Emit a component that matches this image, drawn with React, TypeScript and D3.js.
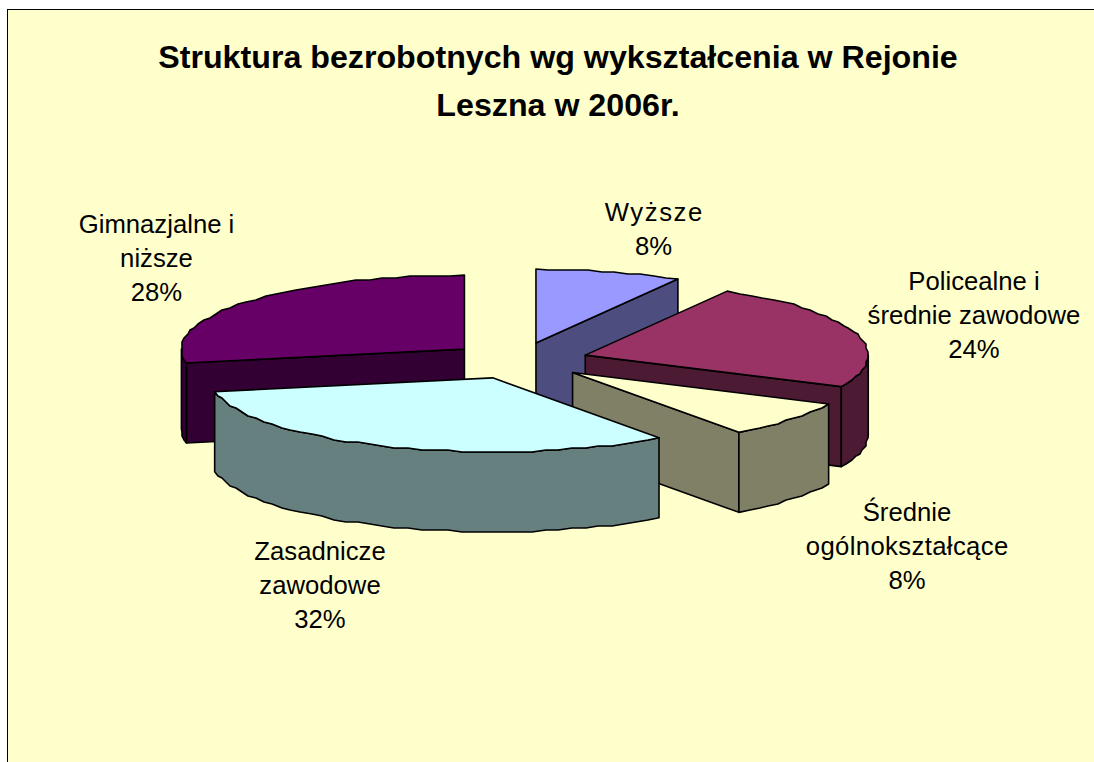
import React from "react";
import * as d3 from "d3";

const titleLines = ["Struktura bezrobotnych wg wykształcenia w Rejonie", "Leszna w 2006r."];
const categories = ["Wyższe", "Policealne i średnie zawodowe", "Średnie ogólnokształcące", "Zasadnicze zawodowe", "Gimnazjalne i niższe"];
const values = [8, 24, 8, 32, 28];
const topColors = ["#9999FF", "#993366", "#FFFFCC", "#CCFFFF", "#660066"];
const sideColors = ["#4D4D80", "#4D1A33", "#808066", "#668080", "#330033"];
const labelLines = [["Wyższe", "8%"], ["Policealne i", "średnie zawodowe", "24%"], ["Średnie", "ogólnokształcące", "8%"], ["Zasadnicze", "zawodowe", "32%"], ["Gimnazjalne i", "niższe", "28%"]];
const drawOrder = [4, 0, 1, 2, 3];

const W = 1094, H = 762;
const CX = 518.5, CY = 360.8, RX = 283, RY = 74, DEPTH = 80, EXPLODE = 0.248;
const labelPos = [[653.5, 221], [974, 290], [907, 521], [320, 560], [156.5, 232.5]];
const stretched: Record<string, number> = { "Wyższe": 97.5, "ogólnokształcące": 202.5 };

const arcs = d3.pie<number>().sort(null).startAngle(0).endAngle(2 * Math.PI)(values);

type P = [number, number];
const line = d3.line();

function App() {
  // the original's slight perspective widens the back-right quadrant
  const warp = (a: number) => (a > 0 && a < Math.PI / 2 ? a + 0.032 * Math.sin(2 * a) ** 2 : a);
  const project = (c: P, a: number, dy = 0): P => {
    const b = warp(a);
    return [c[0] + RX * Math.sin(b), c[1] - RY * Math.cos(b) + dy];
  };
  // slightly stepped outline of the coarse original rendering
  const rim = (c: P, a0: number, a1: number, dy = 0): P[] => {
    const n = Math.max(2, Math.ceil((a1 - a0) / 0.05));
    return d3.range(n + 1).map((i) => {
      const a = a0 + ((a1 - a0) * i) / n;
      const p = project(c, a, dy);
      if (i === 0 || i === n) return p;
      return [Math.round(p[0] / 2) * 2, Math.round(p[1] / 2) * 2] as P;
    });
  };

  const slices = drawOrder.map((idx) => {
    const d = arcs[idx];
    const mid = (d.startAngle + d.endAngle) / 2;
    const c: P = [CX + EXPLODE * RX * Math.sin(mid), CY - EXPLODE * RY * Math.cos(mid)];
    const a0 = d.startAngle, a1 = d.endAngle;
    const down = (p: P): P => [p[0], p[1] + DEPTH];
    const faces: P[][] = [];
    if (Math.sin(a0) < -1e-6) {
      const p = project(c, a0);
      faces.push([c, p, down(p), down(c)]);
    }
    if (Math.sin(a1) > 1e-6) {
      const p = project(c, a1);
      faces.push([c, p, down(p), down(c)]);
    }
    const wa0 = Math.max(a0, Math.PI / 2), wa1 = Math.min(a1, (3 * Math.PI) / 2);
    if (wa1 > wa0) {
      const upper = rim(c, wa0, wa1);
      const lower = rim(c, wa0, wa1, DEPTH).reverse();
      faces.push([...upper, ...lower]);
    }
    const top: P[] = [c, ...rim(c, a0, a1)];
    return { idx, faces, top };
  });

  return (
    <svg width={W} height={H} viewBox={`0 0 ${W} ${H}`} style={{ position: "fixed", left: 0, top: 0, display: "block" }}>
      <rect x={0} y={0} width={W} height={H} fill="#FFFFFF" />
      <rect x={7.5} y={9.5} width={W + 20} height={H + 20} fill="#FFFFCC" stroke="#000" strokeWidth={1} />
      <g fontFamily="'Liberation Sans', Arial, sans-serif" fill="#000">
        {titleLines.map((t, i) => (
          <text key={t} x={558} y={68 + i * 48} textAnchor="middle" fontSize={32.2} fontWeight="bold">{t}</text>
        ))}
      </g>
      {slices.map((s) => (
        <g key={categories[s.idx]} stroke="#000" strokeWidth={1.6} strokeLinejoin="round">
          {s.faces.map((f, i) => (
            <path key={i} d={line(f) + "Z"} fill={sideColors[s.idx]} />
          ))}
          <path d={line(s.top) + "Z"} fill={topColors[s.idx]} />
        </g>
      ))}
      <g fontFamily="'Liberation Sans', Arial, sans-serif" fill="#000" fontSize={25.7}>
        {labelLines.map((ls, i) =>
          ls.map((t, j) => (
            <text
              key={t + j}
              x={labelPos[i][0]}
              y={labelPos[i][1] + j * 34}
              textAnchor="middle"
              {...(stretched[t] ? { textLength: stretched[t], lengthAdjust: "spacing" } : {})}
            >
              {t}
            </text>
          ))
        )}
      </g>
    </svg>
  );
}

export default App;
